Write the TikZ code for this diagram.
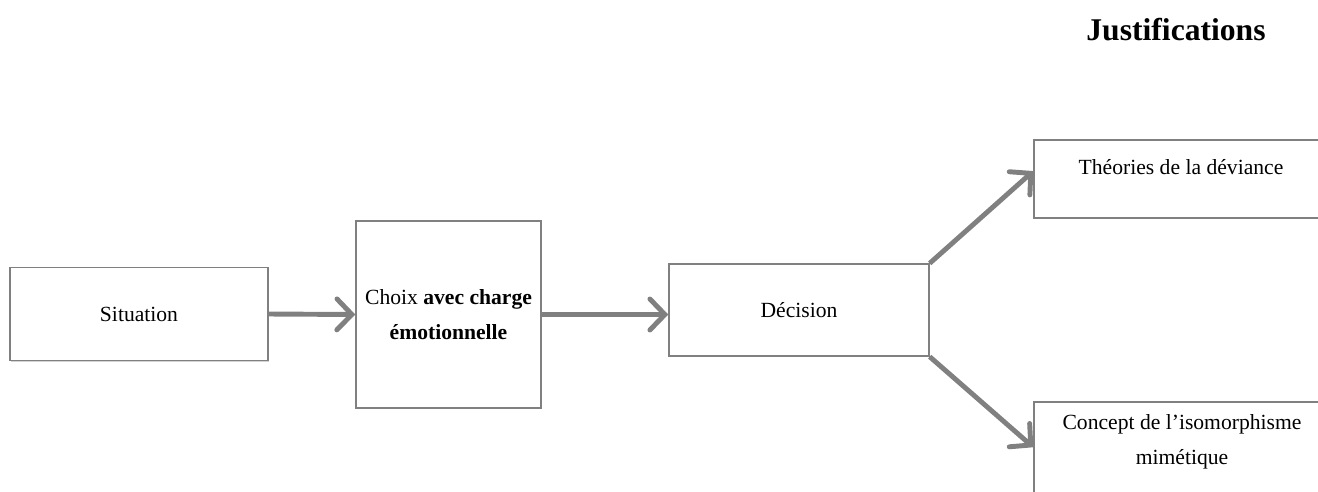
\documentclass[tikz,border=0pt]{standalone}
\usepackage{fontspec}
\setmainfont{Liberation Serif}
\usetikzlibrary{arrows.meta,shadows,calc}

\tikzset{
  box/.style={draw=gray, line width=0.8pt, fill=white, align=center,
    font=\fontsize{12.3}{20}\selectfont,
    drop shadow={shadow xshift=0.8pt, shadow yshift=-0.8pt, opacity=0.35, fill=gray}},
  fleche/.style={draw=gray, line width=2.8pt,
    -{Straight Barb[length=0.3cm, width=0.62cm, line cap=round]}}
}

\begin{document}
\begin{tikzpicture}[x=0.02cm, y=-0.02cm]
\useasboundingbox (0,0) rectangle (1318,491);

\node[font=\fontsize{18}{20}\bfseries\selectfont] (titre) at (1176,30) {Justifications};

\node[box, minimum width=5.16cm, minimum height=1.86cm] (situation) at (139,314) {Situation};
\node[box, minimum width=3.7cm, minimum height=3.74cm] (choix) at (448.5,314.5) {Choix \textbf{avec charge}\\\textbf{émotionnelle}};
\node[box, minimum width=5.2cm, minimum height=1.84cm] (decision) at (799,310) {Décision};
\node[box, minimum width=6.12cm, minimum height=1.56cm] (theories) at (1187,179) {};
\node[box, minimum width=6.12cm, minimum height=2.16cm] (concept) at (1187,456) {};

\node[font=\fontsize{12.3}{20}\selectfont] (theoriestxt) at (1181,167) {Théories de la déviance};
\node[font=\fontsize{12.3}{20}\selectfont, align=center] (concepttxt) at (1182,442) {Concept de l’isomorphisme\\mimétique};

\path[fleche] (situation.east) -- (choix.west);
\path[fleche] (choix.east) -- (choix.east -| decision.west);
\path[fleche] (decision.north east) -- ($(theories.north west)!0.4!(theories.south west)$);
\path[fleche] (decision.south east) -- ($(concept.north west)!0.42!(concept.south west)$);
\end{tikzpicture}
\end{document}
